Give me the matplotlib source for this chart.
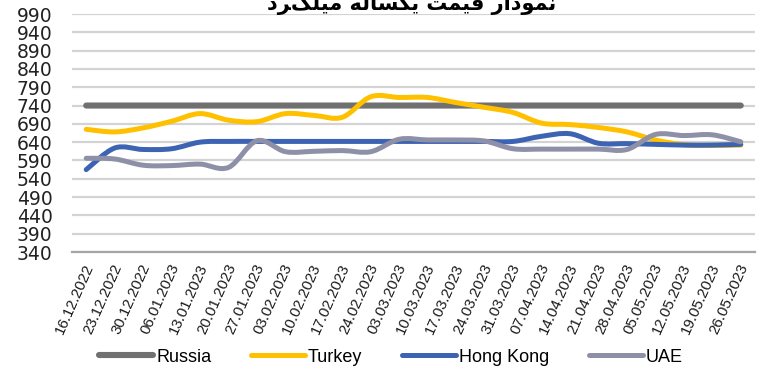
import numpy as np
import matplotlib.pyplot as plt
from matplotlib.path import Path
from matplotlib.patches import PathPatch
from matplotlib.lines import Line2D

dates = ['16.12.2022', '23.12.2022', '30.12.2022', '06.01.2023', '13.01.2023',
         '20.01.2023', '27.01.2023', '03.02.2023', '10.02.2023', '17.02.2023',
         '24.02.2023', '03.03.2023', '10.03.2023', '17.03.2023', '24.03.2023',
         '31.03.2023', '07.04.2023', '14.04.2023', '21.04.2023', '28.04.2023',
         '05.05.2023', '12.05.2023', '19.05.2023', '26.05.2023']

russia = [740, 740, 740, 740, 740, 740, 740, 740, 740, 740, 740, 740,
          740, 740, 740, 740, 740, 740, 740, 740, 740, 740, 740, 740]
turkey = [675, 668, 679, 697, 718, 700, 696, 718, 713, 708, 764, 762,
          762, 748, 735, 721, 692, 688, 680, 668, 646, 633, 631, 632]
hong_kong = [565, 624, 620, 622, 640, 642, 642, 642, 642, 642, 642, 642,
             642, 642, 642, 642, 656, 663, 637, 636, 634, 632, 632, 634]
uae = [596, 594, 577, 576, 580, 571, 644, 614, 615, 617, 614, 648,
       646, 646, 643, 622, 621, 621, 621, 620, 661, 658, 660, 641]

series = [('Russia', russia, '#707070', 4.4),
          ('Turkey', turkey, '#ffc000', 3.6),
          ('Hong Kong', hong_kong, '#3d63b3', 3.6),
          ('UAE', uae, '#8e90a8', 3.6)]

# title in presentation forms so the glyphs come out joined
title = ('\ufea9\ufeae\ufb93\ufee0\ufef4\ufee3 '
         '\ufeea\ufedf\ufe8e\ufeb4\ufedc\ufef3 '
         '\ufe96\ufee4\ufef4\ufed7 '
         '\ufead\ufe8d\ufea9\ufeee\ufee4\ufee7')


def smooth_path(xs, ys):
    # cubic bezier through every point, like a spreadsheet "smoothed line"
    pts = np.column_stack([xs, ys]).astype(float)
    n = len(pts)
    verts = [pts[0]]
    codes = [Path.MOVETO]
    for i in range(n - 1):
        p0 = pts[max(i - 1, 0)]
        p1 = pts[i]
        p2 = pts[i + 1]
        p3 = pts[min(i + 2, n - 1)]
        verts += [p1 + (p2 - p0) / 6, p2 - (p3 - p1) / 6, p2]
        codes += [Path.CURVE4] * 3
    return Path(verts, codes)


fig = plt.figure(figsize=(7.6, 3.72), dpi=100)
ax = fig.add_axes([72 / 760, 1 - 252 / 372, 683 / 760, 238 / 372])

x = np.arange(len(dates))
handles = []
for name, vals, color, lw in series:
    patch = PathPatch(smooth_path(x, vals), fill=False, edgecolor=color,
                      lw=lw, capstyle='round', joinstyle='round', zorder=3)
    ax.add_patch(patch)
    handles.append(Line2D([], [], color=color, lw=lw, solid_capstyle='round',
                          label=name))

ax.set_xlim(-0.5, len(dates) - 0.5)
ax.set_ylim(340, 990)
ax.set_yticks(np.arange(340, 991, 50))
# labels sit a touch right of each point
ax.set_xticks(x + 0.12)
ax.set_xticklabels(dates, rotation=66, rotation_mode='anchor', ha='right',
                   va='center', fontsize=10.8, family='Liberation Sans',
                   color='#1a1a1a')
for lbl in ax.get_yticklabels():
    lbl.set_family('DejaVu Sans')
    lbl.set_fontsize(13.5)
    lbl.set_color('#222222')
ax.tick_params(axis='y', length=0, pad=14)
ax.tick_params(axis='x', length=0, pad=9)

ax.grid(axis='y', color='#d3d3d3', lw=1.6)
ax.set_axisbelow(True)
for side in ['top', 'right', 'left']:
    ax.spines[side].set_visible(False)
ax.spines['bottom'].set_color('#a5a5a5')
ax.spines['bottom'].set_linewidth(1.6)

fig.legend(handles=handles, loc='center', bbox_to_anchor=(391 / 760, 0.04),
           ncol=4, frameon=False, handlelength=3.0, handletextpad=0.15,
           columnspacing=2.2, prop={'family': 'Liberation Sans', 'size': 13})

fig.text(412 / 760, 1 - 3 / 372, title, ha='center', va='center',
         fontsize=15, fontweight='bold', family=['DejaVu Sans'])

fig.savefig('out.png', dpi=100)
plt.close(fig)
